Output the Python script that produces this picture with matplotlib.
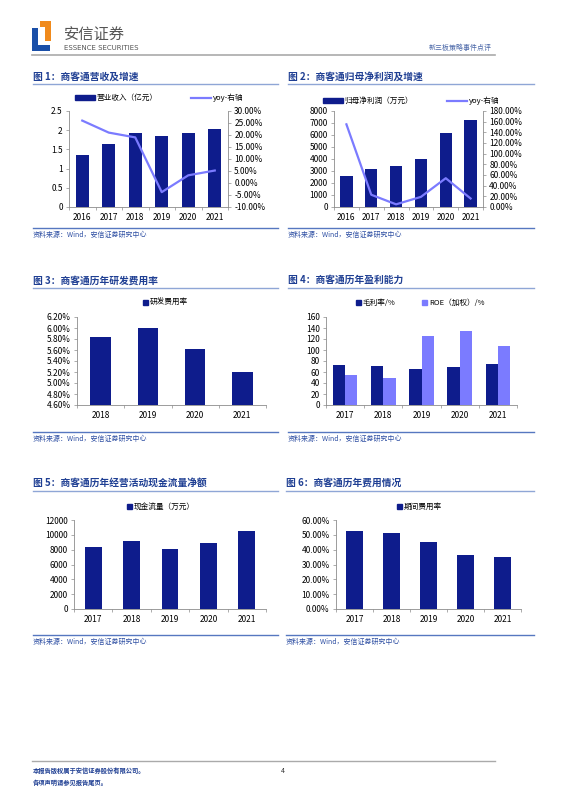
import numpy as np
import matplotlib
matplotlib.use('Agg')
import matplotlib.pyplot as plt
import matplotlib.patches as mpatches
from matplotlib.lines import Line2D
from matplotlib.ticker import FuncFormatter

plt.rcParams['font.family'] = ['Noto Sans CJK SC', 'DejaVu Sans']
plt.rcParams['axes.unicode_minus'] = False

W, H = 566, 800

# 图1 数据
years6 = ['2016', '2017', '2018', '2019', '2020', '2021']
revenue = [1.35, 1.63, 1.93, 1.86, 1.92, 2.02]
revenue_yoy = [26.0, 21.0, 19.0, -3.8, 3.2, 5.2]

# 图2 数据
profit = [2600, 3200, 3400, 4000, 6200, 7250]
profit_yoy = [155.0, 23.0, 5.0, 19.0, 54.0, 16.0]

# 图3 数据
years4 = ['2018', '2019', '2020', '2021']
rd_rate = [5.84, 6.00, 5.61, 5.20]

# 图4 数据
years5 = ['2017', '2018', '2019', '2020', '2021']
gross_margin = [72, 71, 65, 69, 74]
roe = [55, 49, 125, 135, 107]

# 图5 数据
cash_flow = [8400, 9200, 8100, 8950, 10500]

# 图6 数据
expense_rate = [52.5, 51.0, 45.0, 36.5, 34.8]

NAVY = '#0e1c8c'
LAVENDER = '#7b7bff'
TITLE_C = '#1f3f93'
LINE_C = '#8fa6d6'
SRC_LINE = '#5677c0'
SRC_TXT = '#2e4fa3'
SPINE = '#8c8c8c'
TICK_FS = 6

fig = plt.figure(figsize=(W / 100, H / 100), dpi=100)

# 页面底层, 像素坐标
bg = fig.add_axes([0, 0, 1, 1], zorder=-1)
bg.set_xlim(0, W)
bg.set_ylim(H, 0)
bg.axis('off')


def rect(l, t, r, b):
    return [l / W, 1 - b / H, (r - l) / W, (b - t) / H]


def style(ax, n):
    for s in ['top', 'right']:
        ax.spines[s].set_visible(False)
    ax.spines['left'].set_color(SPINE)
    ax.spines['bottom'].set_color(SPINE)
    ax.spines['left'].set_linewidth(0.6)
    ax.spines['bottom'].set_linewidth(0.6)
    ax.tick_params(axis='both', labelsize=TICK_FS, length=2.5, width=0.5,
                   color=SPINE, pad=2)
    # 类别轴的刻度线放在类别之间
    ax.set_xticks(np.arange(n + 1) - 0.5, minor=True)
    ax.tick_params(axis='x', which='major', length=0, pad=4)
    ax.tick_params(axis='x', which='minor', length=2.5, width=0.5, color=SPINE)


def right_axis(ax):
    for s in ['top', 'left', 'bottom']:
        ax.spines[s].set_visible(False)
    ax.spines['right'].set_color(SPINE)
    ax.spines['right'].set_linewidth(0.6)
    ax.tick_params(labelsize=TICK_FS, length=2.5, width=0.5, color=SPINE, pad=2)


def frame(x0, x1, title, ty, lty, sy, sty):
    bg.text(x0, ty, title, fontsize=7, fontweight='bold', color=TITLE_C,
            va='center', ha='left')
    bg.plot([x0, x1], [lty, lty], color=LINE_C, lw=1.0)
    bg.plot([x0, x1], [sy, sy], color=SRC_LINE, lw=1.0)
    bg.text(x0, sty, '资料来源：Wind，安信证券研究中心', fontsize=5, color=SRC_TXT,
            va='center', ha='left', style='italic')


def legend(ax, handles, labels, cx, cy, hl=2.0, cs=3.0):
    ax.legend(handles, labels, loc='center', bbox_to_anchor=(cx / W, 1 - cy / H),
              bbox_transform=fig.transFigure, ncol=len(handles), frameon=False,
              fontsize=5.5, handlelength=hl, handleheight=0.7, columnspacing=cs,
              handletextpad=0.2, borderaxespad=0)


def pct(dec):
    return FuncFormatter(lambda v, p: f'{v:.{dec}f}%')


# 页眉
bg.add_patch(mpatches.Polygon([[32, 28], [38, 28], [38, 45], [50, 45], [50, 51], [32, 51]],
                              closed=True, color='#1a4fa8', lw=0))
bg.add_patch(mpatches.Polygon([[40, 21], [51, 21], [51, 41], [45, 41], [45, 27], [40, 27]],
                              closed=True, color='#f08a1c', lw=0))
bg.text(64, 35, '安信证券', fontsize=11, color='#555555', va='center', ha='left')
bg.text(64, 47.5, 'ESSENCE SECURITIES', fontsize=5, color='#555555', va='center',
        ha='left', family=['Liberation Sans Narrow', 'DejaVu Sans'])
bg.text(492, 48, '新三板策略事件点评', fontsize=5, color='#4a67a8', va='center',
        ha='right')
bg.plot([32, 495], [55, 55], color='#aaaaaa', lw=1.2)

# 页脚
bg.plot([32, 495], [761, 761], color='#aaaaaa', lw=1.0)
bg.text(33, 770, '本报告版权属于安信证券股份有限公司。', fontsize=4.5, color='#1f3f93',
        va='center', ha='left', fontweight='bold')
bg.text(33, 782, '各项声明请参见报告尾页。', fontsize=4.5, color='#1f3f93',
        va='center', ha='left', fontweight='bold')
bg.text(283, 771, '4', fontsize=5, color='#333333', va='center', ha='center')

# 图1
frame(33, 278, '图 1：商客通营收及增速', 77, 84, 228, 235)
ax1 = fig.add_axes(rect(69, 111, 228, 207))
x = np.arange(len(years6))
ax1.bar(x, revenue, width=0.5, color=NAVY)
ax1.set_xlim(-0.5, 5.5)
ax1.set_ylim(0, 2.5)
ax1.set_yticks([0, 0.5, 1, 1.5, 2, 2.5])
ax1.yaxis.set_major_formatter(FuncFormatter(lambda v, p: f'{v:g}'))
ax1.set_xticks(x)
ax1.set_xticklabels(years6)
style(ax1, len(years6))
ax1r = ax1.twinx()
ax1r.plot(x, revenue_yoy, color=LAVENDER, lw=1.6)
ax1r.set_ylim(-10, 30)
ax1r.set_yticks(np.arange(-10, 31, 5))
ax1r.yaxis.set_major_formatter(pct(2))
right_axis(ax1r)
legend(ax1, [mpatches.Patch(color=NAVY), Line2D([], [], color=LAVENDER, lw=1.6)],
       ['营业收入（亿元）', 'yoy-右轴'], 159, 98, hl=2.6, cs=4.5)

# 图2
frame(288, 534, '图 2：商客通归母净利润及增速', 77, 84, 228, 235)
ax2 = fig.add_axes(rect(334, 111, 483, 207))
ax2.bar(x, profit, width=0.5, color=NAVY)
ax2.set_xlim(-0.5, 5.5)
ax2.set_ylim(0, 8000)
ax2.set_yticks(np.arange(0, 8001, 1000))
ax2.set_xticks(x)
ax2.set_xticklabels(years6)
style(ax2, len(years6))
ax2r = ax2.twinx()
ax2r.plot(x, profit_yoy, color=LAVENDER, lw=1.6)
ax2r.set_ylim(0, 180)
ax2r.set_yticks(np.arange(0, 181, 20))
ax2r.yaxis.set_major_formatter(pct(2))
right_axis(ax2r)
legend(ax2, [mpatches.Patch(color=NAVY), Line2D([], [], color=LAVENDER, lw=1.6)],
       ['归母净利润（万元）', 'yoy-右轴'], 411, 101, hl=2.6, cs=4.5)

# 图3
frame(33, 278, '图 3：商客通历年研发费用率', 281, 288, 432, 439)
ax3 = fig.add_axes(rect(77, 317, 266, 405))
x4 = np.arange(len(years4))
ax3.bar(x4, rd_rate, width=0.43, color=NAVY)
ax3.set_xlim(-0.5, 3.5)
ax3.set_ylim(4.6, 6.2)
ax3.set_yticks(np.arange(4.6, 6.21, 0.2))
ax3.yaxis.set_major_formatter(pct(2))
ax3.set_xticks(x4)
ax3.set_xticklabels(years4)
style(ax3, len(years4))
legend(ax3, [mpatches.Patch(color=NAVY)], ['研发费用率'], 165, 303, hl=0.7)

# 图4
frame(288, 534, '图 4：商客通历年盈利能力', 280, 288, 432, 439)
ax4 = fig.add_axes(rect(326, 317, 517, 405))
x5 = np.arange(len(years5))
ax4.bar(x5 - 0.16, gross_margin, width=0.32, color=NAVY)
ax4.bar(x5 + 0.16, roe, width=0.32, color=LAVENDER)
ax4.set_xlim(-0.5, 4.5)
ax4.set_ylim(0, 160)
ax4.set_yticks(np.arange(0, 161, 20))
ax4.set_xticks(x5)
ax4.set_xticklabels(years5)
style(ax4, len(years5))
legend(ax4, [mpatches.Patch(color=NAVY), mpatches.Patch(color=LAVENDER)],
       ['毛利率/%', 'ROE（加权）/%'], 420, 303, hl=0.7, cs=3.5)

# 图5
frame(33, 278, '图 5：商客通历年经营活动现金流量净额', 483, 491, 635, 642)
ax5 = fig.add_axes(rect(74, 520, 266, 609))
ax5.bar(x5, cash_flow, width=0.44, color=NAVY)
ax5.set_xlim(-0.5, 4.5)
ax5.set_ylim(0, 12000)
ax5.set_yticks(np.arange(0, 12001, 2000))
ax5.set_xticks(x5)
ax5.set_xticklabels(years5)
style(ax5, len(years5))
legend(ax5, [mpatches.Patch(color=NAVY)], ['现金流量（万元）'], 161, 507, hl=0.7)

# 图6
frame(286, 534, '图 6：商客通历年费用情况', 483, 491, 635, 642)
ax6 = fig.add_axes(rect(336, 520, 521, 609))
ax6.bar(x5, expense_rate, width=0.44, color=NAVY)
ax6.set_xlim(-0.5, 4.5)
ax6.set_ylim(0, 60)
ax6.set_yticks(np.arange(0, 61, 10))
ax6.yaxis.set_major_formatter(pct(2))
ax6.set_xticks(x5)
ax6.set_xticklabels(years5)
style(ax6, len(years5))
legend(ax6, [mpatches.Patch(color=NAVY)], ['期间费用率'], 419, 507, hl=0.7)

fig.savefig('out.png', dpi=100)
